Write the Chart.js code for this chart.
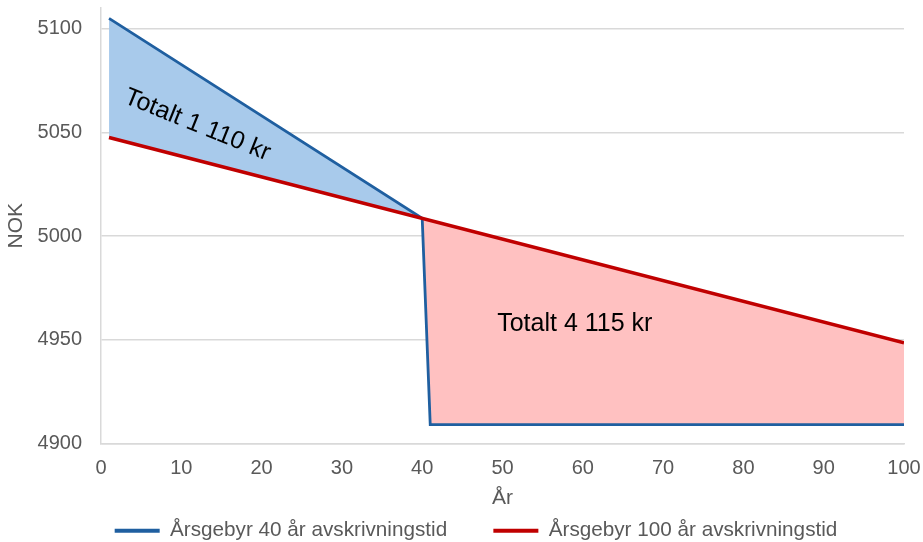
<!DOCTYPE html>
<html>
<head>
<meta charset="utf-8">
<script src="https://cdn.jsdelivr.net/npm/chart.js@4.4.1/dist/chart.umd.min.js"></script>
<style>
  body { margin: 0; background: #fff; }
  #wrap { width: 923px; height: 542px; }
</style>
</head>
<body>
<div id="wrap"><canvas id="feeChart"></canvas></div>
<script>
// values
const years40 = [1, 40, 41, 100];
const fee40 = [5105, 5008.5, 4909, 4909];
const years100 = [1, 100];
const fee100 = [5047.5, 4948.5];
const seriesNames = ['Årsgebyr 40 år avskrivningstid', 'Årsgebyr 100 år avskrivningstid'];
const yTicks = [4900, 4950, 5000, 5050, 5100];
const areaTexts = ['Totalt 1 110 kr', 'Totalt 4 115 kr'];
const areaTextAt = [[12, 5053.5], [59, 4957.5]];

const tickGrey = '#595959';
const fontFam = '"Liberation Sans", Arial, sans-serif';

// draws the two "Totalt" labels inside the shaded areas
const areaLabels = {
    id: 'areaLabels',
    afterLayout(chart) {
        // legend sits a bit right of centre in the original
        chart.legend.left += 22;
        chart.legend.right += 22;
    },
    afterDatasetsDraw(chart) {
        const ctx = chart.ctx;
        const xs = chart.scales.x, ys = chart.scales.y;
        const angles = [22 * Math.PI / 180, 0];
        ctx.save();
        ctx.fillStyle = '#000';
        ctx.font = '25px ' + fontFam;
        ctx.textAlign = 'center';
        ctx.textBaseline = 'middle';
        areaTexts.forEach((txt, i) => {
            ctx.save();
            ctx.translate(xs.getPixelForValue(areaTextAt[i][0]), ys.getPixelForValue(areaTextAt[i][1]));
            ctx.rotate(angles[i]);
            ctx.fillText(txt, 0, 0);
            ctx.restore();
        });
        ctx.restore();
    }
};

const feeChart = new Chart(document.getElementById('feeChart'), {
    type: 'line',
    data: {
        datasets: [{
            label: seriesNames[0],
            data: years40.map((x, i) => ({ x: x, y: fee40[i] })),
            borderColor: '#1f5fa0',
            backgroundColor: '#1f5fa0',
            borderWidth: 2.8,
            pointRadius: 0,
            tension: 0,
            order: 1,
            fill: { target: 1, above: '#a8caeb', below: '#ffc1c1' }
        }, {
            label: seriesNames[1],
            data: years100.map((x, i) => ({ x: x, y: fee100[i] })),
            borderColor: '#c00000',
            backgroundColor: '#c00000',
            borderWidth: 3.5,
            pointRadius: 0,
            tension: 0,
            order: 0,
            fill: false
        }]
    },
    options: {
        responsive: true,
        maintainAspectRatio: false,
        animation: false,
        layout: { padding: { top: 8, right: 19, left: 4, bottom: -9 } },
        plugins: {
            tooltip: { enabled: false },
            legend: {
                position: 'bottom',
                labels: {
                    color: tickGrey,
                    font: { size: 20.7, family: fontFam },
                    boxWidth: 45,
                    boxHeight: 4,
                    padding: 6,
                    sort: (a, b) => a.datasetIndex - b.datasetIndex,
                    generateLabels: function (chart) {
                        const items = Chart.defaults.plugins.legend.labels.generateLabels(chart);
                        items.forEach(it => {
                            it.lineWidth = 0;
                            // wider gap between the two entries
                            if (it.datasetIndex === 0) it.text += '\u00a0'.repeat(7);
                        });
                        return items;
                    }
                }
            }
        },
        scales: {
            x: {
                type: 'linear',
                min: 0,
                max: 100,
                ticks: {
                    stepSize: 10,
                    color: tickGrey,
                    padding: 13,
                    font: { size: 20, family: fontFam }
                },
                grid: { display: false, drawTicks: false },
                border: { display: true, color: '#d9d9d9', width: 1.5 },
                title: {
                    display: true,
                    text: 'År',
                    color: tickGrey,
                    padding: { top: 0, bottom: 3 },
                    font: { size: 21, family: fontFam }
                },
                afterFit: s => {
                    s.height = 71;
                    s.paddingLeft = 0;
                    s.paddingRight = 0;
                }
            },
            y: {
                min: 4900,
                max: 5110,
                afterBuildTicks: axis => {
                    axis.ticks = yTicks.map(v => ({ value: v }));
                },
                ticks: {
                    color: tickGrey,
                    padding: 19,
                    callback: v => String(v),
                    font: { size: 20, family: fontFam }
                },
                grid: { color: '#d9d9d9', lineWidth: 1.5, drawTicks: false },
                border: { display: true, color: '#d9d9d9', width: 1.5 },
                title: {
                    display: true,
                    text: 'NOK',
                    color: tickGrey,
                    padding: { top: 0, bottom: 0 },
                    font: { size: 21, family: fontFam }
                },
                afterFit: s => {
                    s.width = 97;
                    s.paddingTop = 0;
                    s.paddingBottom = 0;
                }
            }
        }
    },
    plugins: [areaLabels]
});
</script>
</body>
</html>
